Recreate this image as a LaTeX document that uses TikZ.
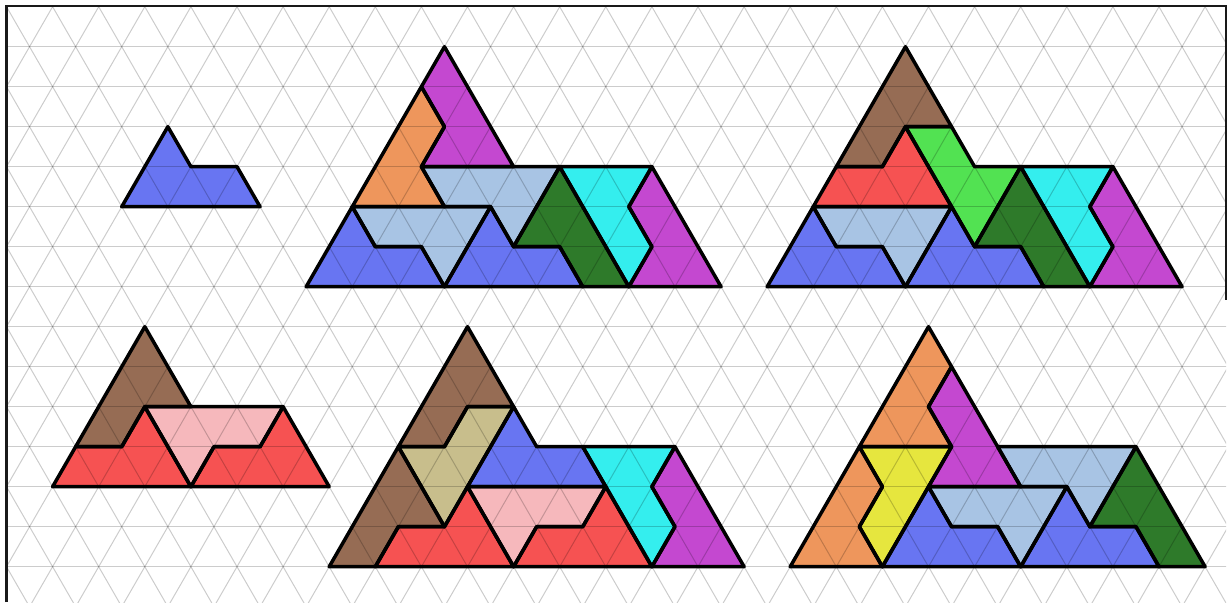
\documentclass[tikz,border=0pt]{standalone}
\definecolor{pzblue}{RGB}{104,117,242}
\definecolor{pzmag}{RGB}{196,72,208}
\definecolor{pzorange}{RGB}{238,150,92}
\definecolor{pzlblue}{RGB}{168,196,228}
\definecolor{pzdgreen}{RGB}{46,122,42}
\definecolor{pzcyan}{RGB}{52,238,238}
\definecolor{pzgreen}{RGB}{82,226,82}
\definecolor{pzred}{RGB}{246,82,82}
\definecolor{pzbrown}{RGB}{150,108,84}
\definecolor{pzpink}{RGB}{246,184,188}
\definecolor{pztan}{RGB}{200,190,140}
\definecolor{pzyellow}{RGB}{230,230,62}
\tikzset{
  gridline/.style={draw=black, draw opacity=0.2, line width=0.5pt},
  outline/.style={draw=black, line width=1.75pt, line join=round},
  frameline/.style={draw=black!90, line width=1.3pt},
}
\newcommand\PZfill[2]{\fill[#1] #2 -- cycle;}
\newcommand\PZdraw[2]{\draw[outline] #2 -- cycle;}
\newcommand\PZall[1]{%
  % single piece
  #1{pzblue}{(7,3)--(8,4)--(10,4)--(11,5)--(5,5)}
  % top middle
  #1{pzmag}{(19,1)--(22,4)--(18,4)--(19,3)--(18,2)}
  #1{pzorange}{(18,2)--(19,3)--(18,4)--(19,5)--(15,5)}
  #1{pzlblue}{(18,4)--(24,4)--(22,6)--(21,5)--(19,5)}
  #1{pzlblue}{(15,5)--(21,5)--(19,7)--(18,6)--(16,6)}
  #1{pzblue}{(13,7)--(15,5)--(16,6)--(18,6)--(19,7)}
  #1{pzblue}{(19,7)--(21,5)--(22,6)--(24,6)--(25,7)}
  #1{pzdgreen}{(24,4)--(27,7)--(25,7)--(24,6)--(22,6)}
  #1{pzcyan}{(24,4)--(28,4)--(27,5)--(28,6)--(27,7)}
  #1{pzmag}{(28,4)--(31,7)--(27,7)--(28,6)--(27,5)}
  % top right
  #1{pzbrown}{(39,1)--(41,3)--(39,3)--(38,4)--(36,4)}
  #1{pzred}{(39,3)--(41,5)--(35,5)--(36,4)--(38,4)}
  #1{pzgreen}{(39,3)--(41,3)--(42,4)--(44,4)--(42,6)}
  #1{pzlblue}{(35,5)--(41,5)--(39,7)--(38,6)--(36,6)}
  #1{pzblue}{(33,7)--(35,5)--(36,6)--(38,6)--(39,7)}
  #1{pzblue}{(39,7)--(41,5)--(42,6)--(44,6)--(45,7)}
  #1{pzdgreen}{(44,4)--(47,7)--(45,7)--(44,6)--(42,6)}
  #1{pzcyan}{(44,4)--(48,4)--(47,5)--(48,6)--(47,7)}
  #1{pzmag}{(48,4)--(51,7)--(47,7)--(48,6)--(47,5)}
  % bottom left
  #1{pzbrown}{(6,8)--(8,10)--(6,10)--(5,11)--(3,11)}
  #1{pzred}{(6,10)--(8,12)--(2,12)--(3,11)--(5,11)}
  #1{pzpink}{(6,10)--(12,10)--(11,11)--(9,11)--(8,12)}
  #1{pzred}{(8,12)--(9,11)--(11,11)--(12,10)--(14,12)}
  % bottom middle
  #1{pzbrown}{(20,8)--(22,10)--(20,10)--(19,11)--(17,11)}
  #1{pzbrown}{(17,11)--(19,13)--(17,13)--(16,14)--(14,14)}
  #1{pztan}{(20,10)--(22,10)--(19,13)--(17,11)--(19,11)}
  #1{pzblue}{(22,10)--(23,11)--(25,11)--(26,12)--(20,12)}
  #1{pzpink}{(20,12)--(26,12)--(25,13)--(23,13)--(22,14)}
  #1{pzred}{(16,14)--(17,13)--(19,13)--(20,12)--(22,14)}
  #1{pzred}{(22,14)--(23,13)--(25,13)--(26,12)--(28,14)}
  #1{pzcyan}{(25,11)--(29,11)--(28,12)--(29,13)--(28,14)}
  #1{pzmag}{(29,11)--(32,14)--(28,14)--(29,13)--(28,12)}
  % bottom right
  #1{pzorange}{(40,8)--(41,9)--(40,10)--(41,11)--(37,11)}
  #1{pzorange}{(37,11)--(38,12)--(37,13)--(38,14)--(34,14)}
  #1{pzyellow}{(37,11)--(41,11)--(38,14)--(37,13)--(38,12)}
  #1{pzmag}{(41,9)--(44,12)--(40,12)--(41,11)--(40,10)}
  #1{pzlblue}{(43,11)--(49,11)--(47,13)--(46,12)--(44,12)}
  #1{pzlblue}{(40,12)--(46,12)--(44,14)--(43,13)--(41,13)}
  #1{pzblue}{(38,14)--(40,12)--(41,13)--(43,13)--(44,14)}
  #1{pzblue}{(44,14)--(46,12)--(47,13)--(49,13)--(50,14)}
  #1{pzdgreen}{(49,11)--(52,14)--(50,14)--(49,13)--(47,13)}
}
\begin{document}
\begin{tikzpicture}[x=0.5pt,y=-0.5pt]
\useasboundingbox (0,0) rectangle (1228,602);
\fill[white] (0,0) rectangle (1228,602);
\begin{scope}
\clip (6.5,6) rectangle (1226,602);
\begin{scope}[shift={(3.25pt,-3.35pt)}, x={(11.525pt,0pt)}, y={(0pt,-20pt)}]
  \PZall\PZfill
  \foreach \r in {0,...,15} \draw[gridline] (-2,\r) -- (56,\r);
  \foreach \c in {-16,-14,...,56} \draw[gridline] (\c,0) -- ({\c+16},16);
  \foreach \c in {0,2,...,72} \draw[gridline] (\c,0) -- ({\c-16},16);
  \PZall\PZdraw
\end{scope}
\end{scope}
\draw[frameline] (6.5,602) -- (6.5,6) -- (1226,6) -- (1226,300);
\end{tikzpicture}
\end{document}
